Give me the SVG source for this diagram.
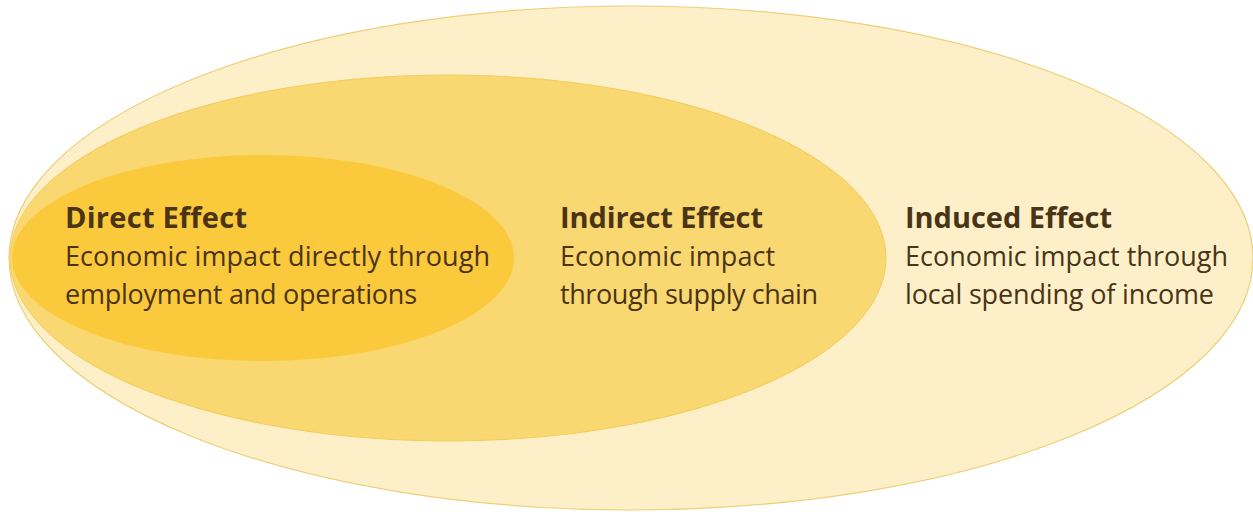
<svg xmlns="http://www.w3.org/2000/svg" width="1253" height="512" viewBox="0 0 1253 512">
<style>
.t{font-family:"Open Sans",Lato,"Liberation Sans",sans-serif;fill:#4a3416;}
.h{font-size:29px;font-weight:bold;}
.b{font-size:27px;}
</style>
<rect width="1253" height="512" fill="#ffffff"/>
<g id="induced">
<ellipse cx="631" cy="258" rx="622" ry="252" fill="#fdf0c9" stroke="#ecd07a" stroke-width="1.2"/>
<text class="t h" x="905" y="228" textLength="207">Induced Effect</text>
<text class="t b" x="905" y="266" textLength="323">Economic impact through</text>
<text class="t b" x="905" y="304" textLength="309">local spending of income</text>
</g>
<g id="indirect">
<ellipse cx="448" cy="258" rx="438" ry="183" fill="#f9d771" stroke="#f3cc5c" stroke-width="1"/>
<text class="t h" x="560" y="228" textLength="203">Indirect Effect</text>
<text class="t b" x="560" y="266" textLength="215">Economic impact</text>
<text class="t b" x="560" y="304" textLength="258">through supply chain</text>
</g>
<g id="direct">
<ellipse cx="263" cy="258" rx="251" ry="103" fill="#fbc93c"/>
<text class="t h" x="65" y="228" textLength="182">Direct Effect</text>
<text class="t b" x="65" y="266" textLength="425">Economic impact directly through</text>
<text class="t b" x="65" y="304" textLength="352">employment and operations</text>
</g>
<g id="connectors"></g>
</svg>
